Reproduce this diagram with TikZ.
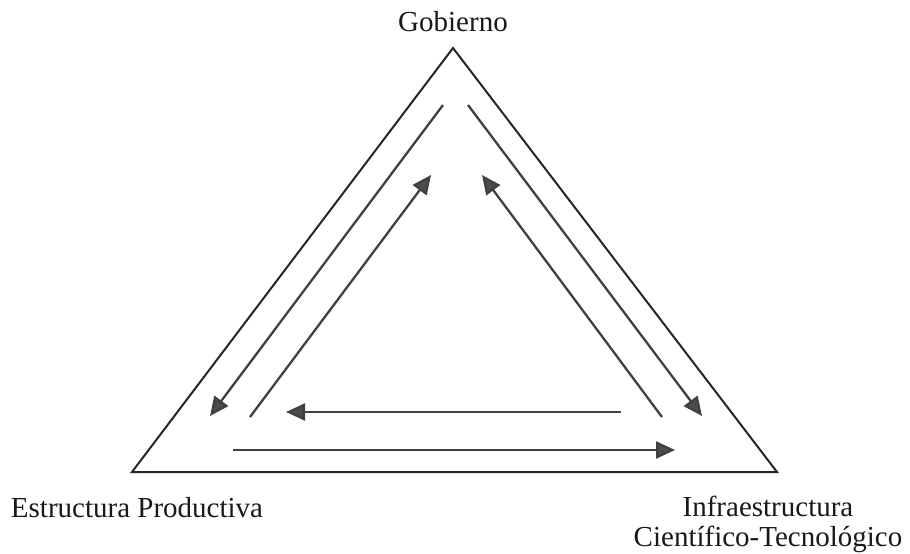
\documentclass[tikz,border=0pt]{standalone}
\usepackage{fontspec}
\setmainfont{Liberation Serif}
\usetikzlibrary{arrows.meta}
\begin{document}
\begin{tikzpicture}[x=1pt,y=-1pt,
  frame/.style={line width=2pt,draw=black!85},
  flow/.style={line width=2.3pt,draw=black!75,
    -{Triangle[length=19pt,width=17pt,fill=black!70]}},
  lbl/.style={font=\fontsize{29}{30}\selectfont,text=black!90,inner sep=0pt}]
\useasboundingbox (0,0) rectangle (910,554);
% triangle corners
\coordinate (top) at (453,48);
\coordinate (bl) at (132,472);
\coordinate (br) at (777,472);
\draw[frame,line join=miter] (top) -- (bl) -- (br) -- cycle;
% labels
\node[lbl] (gob) at (453,22) {Gobierno};
\node[lbl] (ep) at (137,508) {Estructura Productiva};
\node[lbl,align=center] (ict) at (768,524) {Infraestructura\\Científico-Tecnológico};
% flow endpoints
\coordinate (l1s) at (443,105); \coordinate (l1e) at (210,416);
\coordinate (l2s) at (250,417); \coordinate (l2e) at (431,175);
\coordinate (r1s) at (468,105); \coordinate (r1e) at (702,416);
\coordinate (r2s) at (662,417); \coordinate (r2e) at (482,175);
\coordinate (b1s) at (621,412); \coordinate (b1e) at (286,412);
\coordinate (b2s) at (233,450); \coordinate (b2e) at (675,450);
% arrows
\draw[flow] (l1s) -- (l1e);
\draw[flow] (l2s) -- (l2e);
\draw[flow] (r1s) -- (r1e);
\draw[flow] (r2s) -- (r2e);
\draw[flow] (b1s) -- (b1e);
\draw[flow] (b2s) -- (b2e);
\end{tikzpicture}
\end{document}
